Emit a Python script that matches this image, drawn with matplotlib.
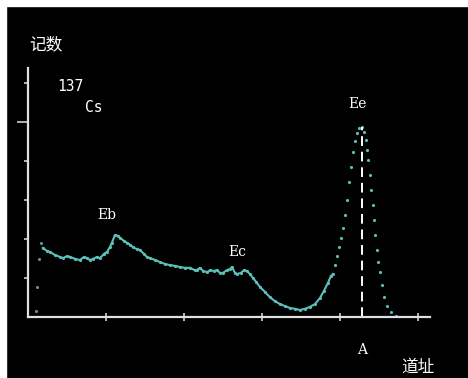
import matplotlib
matplotlib.use("Agg")
import matplotlib.pyplot as plt
from matplotlib.patches import Rectangle

# Channel (道址) and counts (记数)
start_x = [20, 23, 28, 33]
start_y = [15, 77, 149, 190]

cont_x = [38, 49, 56, 69, 82, 90, 100, 108, 121, 133, 144, 151, 159, 167, 177, 185,
          195, 203, 210, 215, 223, 231, 236, 246, 254, 262, 269, 279, 287, 297, 305,
          313, 326, 338, 351, 364, 377, 390, 403, 415, 428, 433, 441, 449, 459, 467,
          477, 485, 492, 500, 510, 518, 523, 531, 536, 546, 554, 562, 569, 577, 585,
          595, 608, 620, 633, 646, 659, 672, 685, 697, 710, 723, 736, 749, 759, 769,
          777, 782]
cont_y = [177, 169, 167, 159, 154, 151, 156, 154, 149, 146, 154, 151, 146, 149, 154, 151,
          162, 167, 179, 190, 210, 208, 203, 195, 190, 185, 179, 174, 172, 162, 154,
          151, 146, 141, 136, 133, 131, 128, 126, 126, 120, 120, 126, 118, 115, 120,
          118, 120, 113, 113, 120, 123, 128, 113, 110, 113, 120, 118, 110, 100, 90,
          77, 64, 51, 41, 33, 28, 23, 21, 18, 21, 26, 33, 49, 67, 87,
          105, 110]

peak_x = [787, 792, 797, 802, 808, 813, 818, 823, 828, 833, 838, 844, 849, 856,
          862, 867, 870, 872, 877, 880, 885, 887, 890, 895, 897, 903, 908, 913,
          920, 931, 944, 954]
peak_y = [133, 156, 180, 203, 228, 262, 300, 346, 385, 423, 451, 472, 485, 487,
          474, 454, 428, 403, 364, 326, 287, 249, 210, 172, 141, 115, 82, 51,
          28, 13, 3, 0]

peak_channel = 856
x_ticks = [200, 400, 600, 800, 1000]
y_ticks = [100, 200, 300, 400, 500, 600]

W, H = 468, 378
fig = plt.figure(figsize=(W / 100, H / 100), dpi=100, facecolor="black")
# thin white margin at top and left of the original screenshot
fig.patches.append(Rectangle((0, 1 - 6 / H), 1, 6 / H, transform=fig.transFigure,
                             color="white", zorder=0))
fig.patches.append(Rectangle((0, 0), 6 / W, 1, transform=fig.transFigure,
                             color="white", zorder=0))

ax = fig.add_axes([28 / W, (H - 317) / H, (430 - 28) / W, (317 - 68) / H])
ax.set_facecolor("black")
ax.set_xlim(0, 1031)
ax.set_ylim(0, 638)

cyan = "#5ac0b8"
ax.plot(start_x, start_y, ".", color="#6a8f8c", ms=2.5)
ax.plot(cont_x, cont_y, "-", color=cyan, lw=1.5, marker=".", ms=2.5)
ax.plot(peak_x, peak_y, ".", color=cyan, ms=2.5)
ax.plot([peak_channel, peak_channel], [0, max(peak_y)], color="white", lw=1.4,
        dashes=(5, 3))

for s in ["top", "right"]:
    ax.spines[s].set_visible(False)
for s in ["left", "bottom"]:
    ax.spines[s].set_color("#e0e0e0")
    ax.spines[s].set_linewidth(1.6)

ax.set_xticks(x_ticks)
ax.set_yticks(y_ticks)
ax.tick_params(axis="x", direction="inout", length=6, width=1.2, colors="#d0d0d0",
               labelbottom=False)
ax.tick_params(axis="y", direction="out", length=3, width=1.2, colors="#d0d0d0",
               labelleft=False)
ax.yaxis.get_major_ticks()[4].tick1line.set_markersize(8)

mono = "DejaVu Sans Mono"
serif = "DejaVu Serif"
cjk = ["Noto Sans CJK SC", "DejaVu Sans"]
ax.text(46, 697, "记数", color="white", fontsize=12, family=cjk,
        ha="center", va="center", clip_on=False)
ax.text(108, 590, "137", color="white", fontsize=10.5, family=mono,
        ha="center", va="center")
ax.text(169, 536, "Cs", color="white", fontsize=10.5, family=mono,
        ha="center", va="center")
ax.text(203, 262, "Eb", color="white", fontsize=10, family=serif,
        ha="center", va="center")
ax.text(538, 167, "Ec", color="white", fontsize=10, family=serif,
        ha="center", va="center")
ax.text(844, 546, "Ee", color="white", fontsize=10, family=serif,
        ha="center", va="center")
ax.text(856, -85, "A", color="white", fontsize=10, family=serif,
        ha="center", va="center", clip_on=False)
ax.text(1000, -128, "道址", color="white", fontsize=12, family=cjk,
        ha="center", va="center", clip_on=False)

fig.savefig("out.png", dpi=100, facecolor="black")
